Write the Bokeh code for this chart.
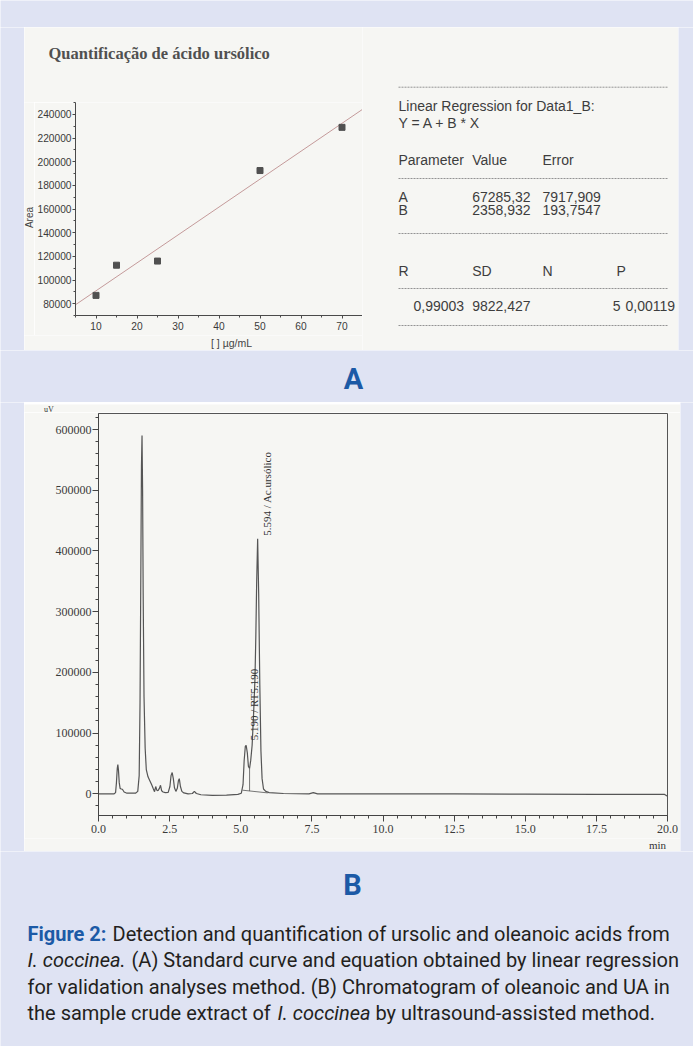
import numpy as np
from bokeh.plotting import figure
from bokeh.layouts import column, row
from bokeh.models import Range1d, SingleIntervalTicker, BasicTickFormatter, PrintfTickFormatter
from bokeh.core.properties import value
from bokeh.embed import file_html
from bokeh.resources import INLINE

LAV = "#dfe3f3"
PAPER = "#f6f6f3"
BLUE = "#1c5aa6"
INK = "#3d3d3d"

# ---------------- Panel A data ----------------
conc = [10, 15, 25, 50, 70]
area = [87000, 112500, 116000, 192500, 229000]
fit_A = 67285.32
fit_B = 2358.932
param_names = ["A", "B"]
param_values = ["67285,32", "2358,932"]
param_errors = ["7917,909", "193,7547"]
stat_names = ["R", "SD", "N", "P"]
stat_values = ["0,99003", "9822,427", "5", "0,00119"]

# ---------------- Panel B data ----------------
rt = [0.0, 0.55, 0.60, 0.63, 0.66, 0.68, 0.70, 0.73, 0.76, 0.80, 0.84, 0.90, 1.00,
      1.30, 1.38, 1.43, 1.46, 1.49, 1.51, 1.53, 1.55, 1.57, 1.60, 1.64, 1.68, 1.74,
      1.80, 1.87, 1.93, 1.97, 2.01, 2.05, 2.09, 2.14, 2.18, 2.22, 2.27, 2.35, 2.45,
      2.51, 2.55, 2.59, 2.63, 2.67, 2.72, 2.77, 2.81, 2.84, 2.88, 2.93, 3.00, 3.15,
      3.30, 3.37, 3.44, 3.60, 4.00, 4.50, 4.90, 5.02, 5.08, 5.12, 5.16, 5.19, 5.23,
      5.27, 5.31, 5.35, 5.40, 5.45, 5.50, 5.53, 5.56, 5.594, 5.63, 5.67, 5.71, 5.75,
      5.80, 5.88, 6.00, 6.50, 7.40, 7.55, 7.70, 8.50, 10.0, 12.5, 15.0, 17.5, 19.9, 20.0]
uv = [0, 0, 2000, 18000, 42000, 48000, 40000, 18000, 9000, 8000, 7500, 3000, 1000,
      1000, 4000, 30000, 150000, 380000, 540000, 590000, 500000, 330000, 160000, 75000, 40000, 28000,
      22000, 15000, 8000, 3500, 12000, 6000, 5000, 9000, 14000, 5000, 3000, 2000, 2500,
      12000, 30000, 35000, 25000, 10000, 4000, 9000, 22000, 25000, 12000, 4000, 1500, 0,
      500, 4000, 500, -1500, -2500, -2000, -1000, 1000, 15000, 55000, 78000, 80000, 68000,
      45000, 42000, 55000, 80000, 130000, 190000, 260000, 350000, 420000, 330000, 180000, 70000, 25000,
      8000, 4000, 2000, 500, 0, 2000, 0, 0, 0, 0, -500, -800, -1000, -4000]
peak_rt = [5.190, 5.594]
peak_uv = [80000, 420000]
peak_text = ["5.190 / RT5.190", "5.594 / Ac.ursólico"]
skim_rt = [5.06, 5.95]
skim_uv = [6000, 1500]
drop_rt = [5.31, 5.31]
drop_uv = [4500, 42000]

CAP_FONT = "Roboto"
CAP = "20px"


def blank(w, h, color):
    s = figure(width=w, height=h, x_range=Range1d(0, w), y_range=Range1d(h, 0),
               toolbar_location=None, output_backend="svg", min_border=0,
               x_axis_location=None, y_axis_location=None, title=None, frame_align=False,
               background_fill_color=color, border_fill_color=color, outline_line_color=None)
    s.grid.visible = False
    return s


def style_axes(fig, color, font, size, tick_out, minor_out):
    for ax in fig.axis:
        ax.axis_line_color = color
        ax.major_tick_line_color = color
        ax.minor_tick_line_color = color
        ax.major_tick_in = 0
        ax.major_tick_out = tick_out
        ax.minor_tick_in = 0
        ax.minor_tick_out = minor_out
        ax.major_label_text_font = font
        ax.major_label_text_font_size = size
        ax.major_label_text_color = "#3a3a3a"


# ---------------- Panel A scatter ----------------
pa = figure(width=328, height=233, x_range=Range1d(5, 75), y_range=Range1d(70000, 250000),
            toolbar_location=None, output_backend="svg", title=None, frame_align=False,
            min_border_left=38, min_border_right=0, min_border_top=0, min_border_bottom=20,
            background_fill_color=PAPER, border_fill_color=PAPER, outline_line_color=None)
pa.grid.visible = False
pa.xaxis.ticker = SingleIntervalTicker(interval=10, num_minor_ticks=2)
pa.yaxis.ticker = SingleIntervalTicker(interval=20000, num_minor_ticks=2)
pa.yaxis.formatter = BasicTickFormatter(use_scientific=False)
style_axes(pa, "#4a4a4a", "Liberation Sans", "10.2px", 3, 2)
pa.xaxis.major_label_standoff = 3
pa.yaxis.major_label_standoff = 1

fx = np.array([pa.x_range.start, pa.x_range.end], dtype=float)
pa.line(fx, fit_A + fit_B * fx, line_color="#c49a9a", line_width=1)
pa.scatter(conc, area, marker="square", size=6, fill_color="#505050", line_color="#505050")

a_title = blank(338, 75, PAPER)
a_title.text(x=[24], y=[26], text=["Quantificação de ácido ursólico"],
             text_font=value("Liberation Serif"), text_font_style="bold",
             text_font_size="16.5px", text_color="#505050", text_baseline="middle",
             text_align="left")
a_ylab = blank(10, 233, PAPER)
a_ylab.text(x=[4.5], y=[115], text=["Area"], angle=np.pi / 2, text_font=value("Liberation Sans"),
            text_font_size="10px", text_color="#444444", text_baseline="middle",
            text_align="center")
a_xlab = blank(338, 15, PAPER)
a_xlab.text(x=[208.5], y=[7.5], text=["[ ]  µg/mL"], text_font=value("Liberation Sans"),
            text_font_size="10.5px", text_color="#444444", text_baseline="middle",
            text_align="center")

# ---------------- Panel A regression table ----------------
pt = blank(316, 323, PAPER)
rule_y = [59.7, 151, 206, 261, 298]
pt.segment(x0=[36] * len(rule_y), y0=rule_y, x1=[306] * len(rule_y), y1=rule_y,
           line_color="#7a7a7a", line_dash="2 1", line_width=0.8)
col_x = [36, 109.7, 180, 254]
tx, ty, tt = [], [], []
tx += [36, 36]; ty += [78, 95.7]; tt += ["Linear Regression for Data1_B:", "Y = A + B * X"]
tx += col_x[:3]; ty += [132] * 3; tt += ["Parameter", "Value", "Error"]
for i, nm in enumerate(param_names):
    yy = 169 + 13.3 * i
    tx += col_x[:3]; ty += [yy] * 3; tt += [nm, param_values[i], param_errors[i]]
tx += col_x; ty += [243] * 4; tt += stat_names
tx += [51, 109.7, 263]; ty += [278] * 3; tt += [stat_values[0], stat_values[1], stat_values[3]]
pt.text(x=tx, y=ty, text=tt, text_font=value("Liberation Sans"), text_font_size="14px",
        text_color=INK, text_baseline="middle", text_align="left")
pt.text(x=[258], y=[278], text=[stat_values[2]], text_font=value("Liberation Sans"),
        text_font_size="14px", text_color=INK, text_baseline="middle", text_align="right")

# ---------------- Panel B chromatogram ----------------
pb = figure(width=656, height=426, x_range=Range1d(0, 20), y_range=Range1d(-35700, 626400),
            toolbar_location=None, output_backend="svg", title=None, frame_align=False,
            min_border_left=74, min_border_right=13, min_border_top=1, min_border_bottom=23,
            background_fill_color=PAPER, border_fill_color=PAPER,
            outline_line_color="#555555", outline_line_width=1)
pb.grid.visible = False
pb.xaxis.ticker = SingleIntervalTicker(interval=2.5, num_minor_ticks=5)
pb.xaxis.formatter = PrintfTickFormatter(format="%.1f")
pb.yaxis.ticker = SingleIntervalTicker(interval=100000, num_minor_ticks=5)
pb.yaxis.formatter = BasicTickFormatter(use_scientific=False)
style_axes(pb, "#444444", "Liberation Serif", "12px", 6, 3)
pb.xaxis.major_label_standoff = 3
pb.yaxis.major_label_standoff = 1

pb.line(rt, uv, line_color="#555555", line_width=1.2)
pb.line(skim_rt, skim_uv, line_color="#555555", line_width=0.8)
pb.line(drop_rt, drop_uv, line_color="#555555", line_width=0.8)
pb.text(x=peak_rt, y=peak_uv, text=peak_text, angle=np.pi / 2, x_offset=[7.5, 9.5],
        y_offset=[-5, -3], text_font=value("Liberation Serif"), text_font_size="11px",
        text_color="#333333", text_align="left", text_baseline="middle")

b_top = blank(656, 10, PAPER)
b_top.text(x=[24.5], y=[5], text=["uV"], text_font=value("Liberation Serif"),
           text_font_size="8px", text_color="#333333", text_baseline="middle",
           text_align="center")
b_bot = blank(656, 13, PAPER)
b_bot.text(x=[633], y=[6], text=["min"], text_font=value("Liberation Serif"),
           text_font_size="11px", text_color="#333333", text_baseline="middle",
           text_align="center")

# ---------------- lavender strips, panel letters, caption ----------------
W = 693
top = blank(W, 27, LAV)
mid = blank(W, 52, LAV)
mid.text(x=[353], y=[28], text=["A"], text_font=value("Roboto"), text_font_style="bold",
         text_font_size="29px", text_color=BLUE, text_align="center", text_baseline="middle")
bot = blank(W, 195, LAV)
bot.text(x=[352], y=[33], text=["B"], text_font=value("Roboto"), text_font_style="bold",
         text_font_size="29px", text_color=BLUE, text_align="center", text_baseline="middle")

line_y = [82.5, 108, 135, 161]
segs = [
    (27, 0, "Figure 2:", "bold", BLUE),
    (112, 0, "Detection and quantification of ursolic and oleanoic acids from", "normal", "#231f20"),
    (27, 1, "I. coccinea.", "italic", "#231f20"),
    (131, 1, "(A) Standard curve and equation obtained by linear regression", "normal", "#231f20"),
    (27, 2, "for validation analyses method. (B) Chromatogram of oleanoic and UA in", "normal", "#231f20"),
    (27, 3, "the sample crude extract of", "normal", "#231f20"),
    (277, 3, "I. coccinea", "italic", "#231f20"),
    (375, 3, "by ultrasound-assisted method.", "normal", "#231f20"),
]
for sx, li, txt, style, col in segs:
    bot.text(x=[sx], y=[line_y[li]], text=[txt], text_font=value(CAP_FONT),
             text_font_style=style, text_font_size=CAP, text_color=col,
             text_align="left", text_baseline="middle")

panel_a = row(blank(24, 323, LAV),
              column(a_title, row(a_ylab, pa), a_xlab),
              pt,
              blank(15, 323, LAV))
panel_b = row(blank(24, 449, LAV),
              column(b_top, pb, b_bot),
              blank(13, 449, LAV))
p = column(top, panel_a, mid, panel_b, bot)

open("out.html", "w").write(file_html(p, INLINE))
